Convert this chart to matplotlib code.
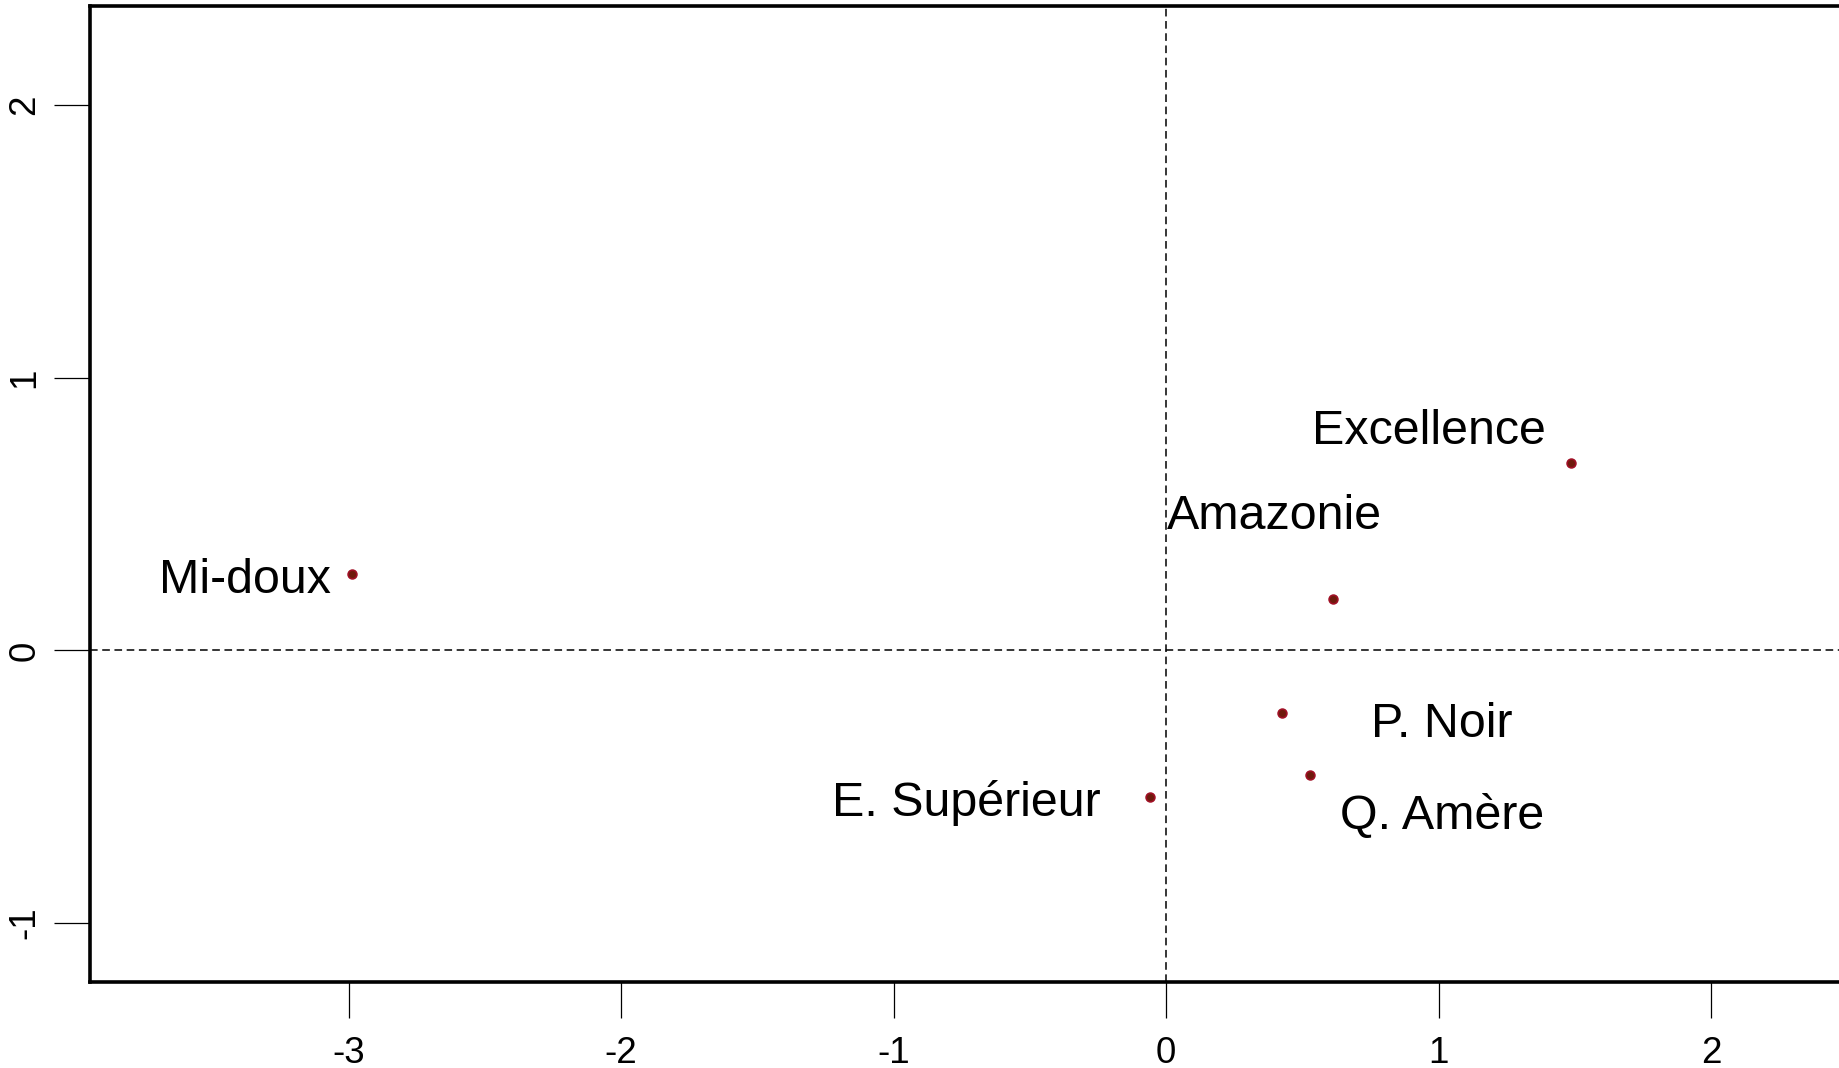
import matplotlib
matplotlib.use("Agg")
import matplotlib.pyplot as plt

# Data
names = ["Mi-doux", "Excellence", "Amazonie", "P. Noir", "Q. Amère", "E. Supérieur"]
dim1 = [-2.989, 1.484, 0.614, 0.425, 0.528, -0.059]
dim2 = [0.279, 0.689, 0.187, -0.230, -0.458, -0.539]
# label anchor positions (repelled labels)
label_x = [-3.381, 0.964, 0.399, 1.010, 1.014, -0.733]
label_y = [0.255, 0.802, 0.492, -0.273, -0.609, -0.558]
xticks = [-3, -2, -1, 0, 1, 2]
yticks = [-1, 0, 1, 2]

plt.rcParams['font.family'] = ['Liberation Sans', 'DejaVu Sans']

fig = plt.figure(figsize=(18.39, 10.68), dpi=100)
ax = fig.add_axes([89.5 / 1839, 86.5 / 1068, 1 - 89.5 / 1839, (981.5 - 6) / 1068])

ax.axhline(0, color='black', lw=1.1, ls=(0, (5, 3)), zorder=1)
ax.axvline(0, color='black', lw=1.1, ls=(0, (5, 3)), zorder=1)

ax.scatter(dim1, dim2, s=40, facecolor='#6e1a0c', edgecolor='#a01025', linewidths=1.2, zorder=3)

for n, lx, ly in zip(names, label_x, label_y):
    ax.text(lx, ly, n, ha='center', va='center', fontsize=34.8, color='black', zorder=4)

ax.set_xlim(-3.951, 2.469)
ax.set_ylim(-1.2146, 2.364)
ax.set_xticks(xticks)
ax.set_yticks(yticks)
ax.set_xticklabels([str(t) for t in xticks])
ax.set_yticklabels([str(t) for t in yticks], rotation=90, va='center')
ax.tick_params(axis='both', direction='out', length=26, width=0.9, labelsize=26.5, color='black')
ax.tick_params(axis='x', pad=13)
ax.tick_params(axis='y', pad=8)

for s in ['left', 'bottom', 'top']:
    ax.spines[s].set_linewidth(2.6)
ax.spines['right'].set_visible(False)

fig.savefig("out.png", dpi=100)
